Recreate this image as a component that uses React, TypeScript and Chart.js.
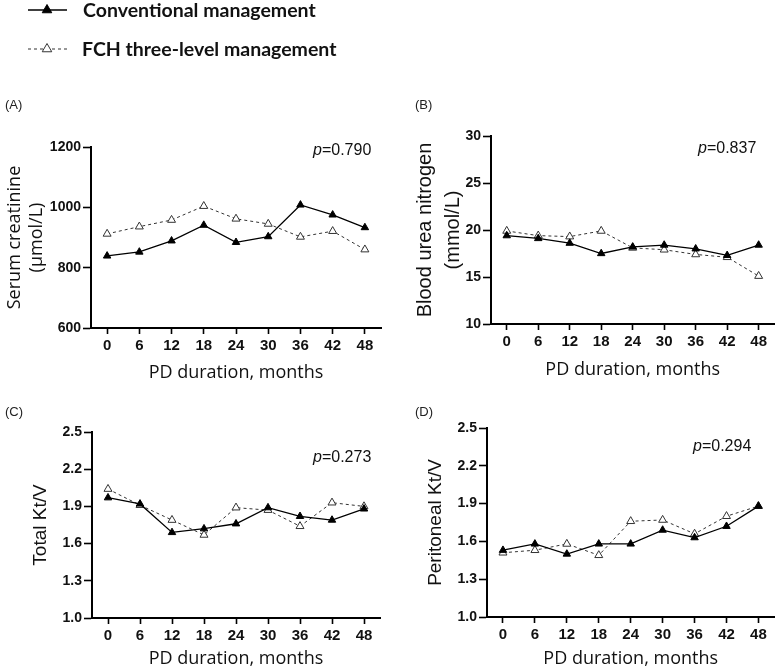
import React, { useEffect, useRef } from "react";
import { Chart, registerables } from "chart.js";

Chart.register(...registerables);

// ---------- data ----------
const months = ["0", "6", "12", "18", "24", "30", "36", "42", "48"];

const creatConv = [839, 852, 889, 941, 884, 903, 1008, 975, 933];
const creatFch = [912, 936, 958, 1004, 962, 945, 902, 921, 860];
const creatTicks = [600, 800, 1000, 1200];

const bunConv = [19.4, 19.1, 18.6, 17.5, 18.2, 18.4, 18.0, 17.3, 18.4];
const bunFch = [19.9, 19.4, 19.3, 19.9, 18.1, 17.9, 17.4, 17.1, 15.1];
const bunTicks = [10, 15, 20, 25, 30];

const totalKtvConv = [1.97, 1.92, 1.69, 1.72, 1.76, 1.89, 1.82, 1.79, 1.88];
const totalKtvFch = [2.04, 1.91, 1.79, 1.67, 1.89, 1.87, 1.74, 1.93, 1.9];
const ktvTicks = [1.0, 1.3, 1.6, 1.9, 2.2, 2.5];

const periKtvConv = [1.53, 1.58, 1.5, 1.58, 1.58, 1.69, 1.63, 1.72, 1.88];
const periKtvFch = [1.51, 1.53, 1.58, 1.49, 1.76, 1.77, 1.66, 1.8, 1.88];

const seriesNames = ["Conventional management", "FCH three-level management"];
const panelLetters = ["(A)", "(B)", "(C)", "(D)"];
const pValues = ["0.790", "0.837", "0.273", "0.294"];
const xTitle = "PD duration, months";

// ---------- layout / style ----------
const ARIAL = "'Liberation Sans', Arial, sans-serif";
const OPEN = "'Open Sans', sans-serif";

interface Panel {
  canvas: { x: number; y: number; w: number; h: number };
  area: { l: number; t: number; r: number; b: number };
  conv: number[];
  fch: number[];
  ticks: number[];
  decimals: number;
  yTitle: string | string[];
  yFont: { family: string; size: number; lineHeight: number };
  yTitleX: number;
  xTitleY: number;
  letter: string;
  letterPos: { x: number; y: number };
  pText: string;
  pPos: { x: number; y: number };
  legend: boolean;
}

const panels: Panel[] = [
  {
    canvas: { x: 0, y: 0, w: 390, h: 395 },
    area: { l: 91, t: 147, r: 381, b: 328 },
    conv: creatConv,
    fch: creatFch,
    ticks: creatTicks,
    decimals: 0,
    yTitle: ["Serum creatinine", "(µmol/L)"],
    yFont: { family: OPEN, size: 18, lineHeight: 1.22 },
    yTitleX: 15,
    xTitleY: 373,
    letter: panelLetters[0],
    letterPos: { x: 5, y: 105 },
    pText: pValues[0],
    pPos: { x: 313, y: 151 },
    legend: true,
  },
  {
    canvas: { x: 390, y: 80, w: 390, h: 315 },
    area: { l: 491, t: 136, r: 777, b: 324 },
    conv: bunConv,
    fch: bunFch,
    ticks: bunTicks,
    decimals: 0,
    yTitle: ["Blood urea nitrogen", "(mmol/L)"],
    yFont: { family: ARIAL, size: 20, lineHeight: 1.4 },
    yTitleX: 425,
    xTitleY: 370,
    letter: panelLetters[1],
    letterPos: { x: 415, y: 105 },
    pText: pValues[1],
    pPos: { x: 698, y: 149 },
    legend: false,
  },
  {
    canvas: { x: 0, y: 395, w: 390, h: 275 },
    area: { l: 92, t: 432, r: 380, b: 618 },
    conv: totalKtvConv,
    fch: totalKtvFch,
    ticks: ktvTicks,
    decimals: 1,
    yTitle: "Total Kt/V",
    yFont: { family: ARIAL, size: 19, lineHeight: 1.2 },
    yTitleX: 41,
    xTitleY: 660,
    letter: panelLetters[2],
    letterPos: { x: 5, y: 412 },
    pText: pValues[2],
    pPos: { x: 313, y: 458 },
    legend: false,
  },
  {
    canvas: { x: 390, y: 395, w: 390, h: 275 },
    area: { l: 487, t: 428, r: 776, b: 617 },
    conv: periKtvConv,
    fch: periKtvFch,
    ticks: ktvTicks,
    decimals: 1,
    yTitle: "Peritoneal Kt/V",
    yFont: { family: ARIAL, size: 19, lineHeight: 1.2 },
    yTitleX: 436,
    xTitleY: 659,
    letter: panelLetters[3],
    letterPos: { x: 415, y: 412 },
    pText: pValues[3],
    pPos: { x: 693, y: 447 },
    legend: false,
  },
];

function drawTri(ctx: CanvasRenderingContext2D, x: number, y: number, r: number, fill: string, stroke: string) {
  ctx.beginPath();
  for (let i = 0; i < 3; i++) {
    const a = -Math.PI / 2 + (i * 2 * Math.PI) / 3;
    const px = x + Math.cos(a) * r;
    const py = y + Math.sin(a) * r;
    if (i === 0) ctx.moveTo(px, py);
    else ctx.lineTo(px, py);
  }
  ctx.closePath();
  ctx.fillStyle = fill;
  ctx.fill();
  ctx.lineWidth = 1;
  ctx.strokeStyle = stroke;
  ctx.stroke();
}

function PanelChart({ p }: { p: Panel }) {
  const ref = useRef<HTMLCanvasElement | null>(null);
  useEffect(() => {
    const cv = ref.current;
    if (!cv) return;
    const c = p.canvas;
    const yWidth = p.area.l - c.x;
    const padTop = p.area.t - c.y;
    const padRight = c.x + c.w - p.area.r;
    const xHeight = c.y + c.h - p.area.b;
    const yLh = p.yFont.size * p.yFont.lineHeight;
    const yTitlePadTop = p.yTitleX - c.x - yLh / 2;
    const xFontSize = 18;
    const xLh = xFontSize * 1.2;
    const xTitlePadBottom = Math.max(0, c.y + c.h - p.xTitleY - xLh / 2);

    const annot = {
      id: "annot",
      afterDraw(chart: any) {
        const ctx: CanvasRenderingContext2D = chart.ctx;
        ctx.save();
        ctx.textBaseline = "middle";
        ctx.textAlign = "left";
        // panel letter
        ctx.fillStyle = "#222";
        ctx.font = `13px ${ARIAL}`;
        ctx.fillText(p.letter, p.letterPos.x - c.x, p.letterPos.y - c.y);
        // p-value
        ctx.fillStyle = "#111";
        ctx.font = `italic 16px ${ARIAL}`;
        const px = p.pPos.x - c.x;
        const py = p.pPos.y - c.y;
        ctx.fillText("p", px, py);
        const w = ctx.measureText("p").width;
        ctx.font = `16px ${ARIAL}`;
        ctx.fillText("=" + p.pText, px + w, py);
        // legend
        if (p.legend) {
          const ys = [10, 49];
          ys.forEach((yy, i) => {
            ctx.beginPath();
            ctx.strokeStyle = i === 0 ? "#000" : "#333";
            ctx.lineWidth = i === 0 ? 1.4 : 1.1;
            ctx.setLineDash(i === 0 ? [] : [3, 3]);
            ctx.moveTo(28, yy);
            ctx.lineTo(67, yy);
            ctx.stroke();
            ctx.setLineDash([]);
            if (i === 0) drawTri(ctx, 47, yy, 5.5, "#000", "#000");
            else drawTri(ctx, 47, yy, 5.5, "#fff", "#333");
            ctx.fillStyle = "#111";
            ctx.font = `bold 19.5px Lato, 'Open Sans', sans-serif`;
            ctx.fillText(seriesNames[i], i === 0 ? 83 : 82, yy + 1);
          });
        }
        ctx.restore();
      },
    };

    const chart = new Chart(cv, {
      type: "line",
      data: {
        labels: months,
        datasets: [
          {
            label: seriesNames[0],
            data: p.conv,
            borderColor: "#000",
            borderWidth: 1.3,
            backgroundColor: "#000",
            pointStyle: "triangle",
            pointRadius: 4.3,
            pointBackgroundColor: "#000",
            pointBorderColor: "#000",
            pointBorderWidth: 1,
            tension: 0,
          },
          {
            label: seriesNames[1],
            data: p.fch,
            borderColor: "#333",
            borderWidth: 1,
            borderDash: [3, 3],
            backgroundColor: "#fff",
            pointStyle: "triangle",
            pointRadius: 4.6,
            pointBackgroundColor: "#fff",
            pointBorderColor: "#333",
            pointBorderWidth: 1,
            tension: 0,
          },
        ],
      },
      options: {
        responsive: false,
        animation: false,
        events: [],
        layout: { padding: { left: 0, top: padTop, right: padRight, bottom: 0 } },
        plugins: {
          legend: { display: false },
          tooltip: { enabled: false },
        },
        scales: {
          x: {
            type: "category",
            offset: true,
            grid: {
              display: true,
              drawOnChartArea: false,
              drawTicks: true,
              tickLength: 6,
              tickColor: "#000",
              tickWidth: 1.6,
              offset: false,
            },
            border: { display: true, color: "#000", width: 2 },
            ticks: {
              color: "#111",
              font: { family: ARIAL, size: 15, weight: "bold" },
              padding: 3,
              maxRotation: 0,
              autoSkip: false,
            },
            title: {
              display: true,
              text: xTitle,
              color: "#111",
              font: { family: OPEN, size: xFontSize, lineHeight: 1.2 },
              padding: { top: 0, bottom: xTitlePadBottom },
            },
            afterFit: (s: any) => {
              s.height = xHeight;
            },
          },
          y: {
            type: "linear",
            min: p.ticks[0],
            max: p.ticks[p.ticks.length - 1],
            grid: {
              display: true,
              drawOnChartArea: false,
              drawTicks: true,
              tickLength: 8,
              tickColor: "#000",
              tickWidth: 1.6,
            },
            border: { display: true, color: "#000", width: 2 },
            ticks: {
              color: "#111",
              font: { family: ARIAL, size: 14, weight: "bold" },
              padding: 2,
              callback: (v: any) => Number(v).toFixed(p.decimals),
            },
            afterBuildTicks: (s: any) => {
              s.ticks = p.ticks.map((v) => ({ value: v }));
            },
            title: {
              display: true,
              text: p.yTitle,
              color: "#111",
              font: { family: p.yFont.family, size: p.yFont.size, lineHeight: p.yFont.lineHeight },
              padding: { top: yTitlePadTop, bottom: 0 },
            },
            afterFit: (s: any) => {
              s.width = yWidth;
            },
          },
        },
      } as any,
      plugins: [annot],
    });
    return () => chart.destroy();
  }, [p]);

  return (
    <canvas
      ref={ref}
      width={p.canvas.w}
      height={p.canvas.h}
      style={{
        position: "absolute",
        left: p.canvas.x,
        top: p.canvas.y,
        width: p.canvas.w,
        height: p.canvas.h,
      }}
    />
  );
}

export default function App() {
  return (
    <div
      style={{
        position: "absolute",
        left: 0,
        top: 0,
        width: 780,
        height: 670,
        background: "#fff",
        overflow: "hidden",
      }}
    >
      {panels.map((p, i) => (
        <PanelChart key={i} p={p} />
      ))}
    </div>
  );
}
